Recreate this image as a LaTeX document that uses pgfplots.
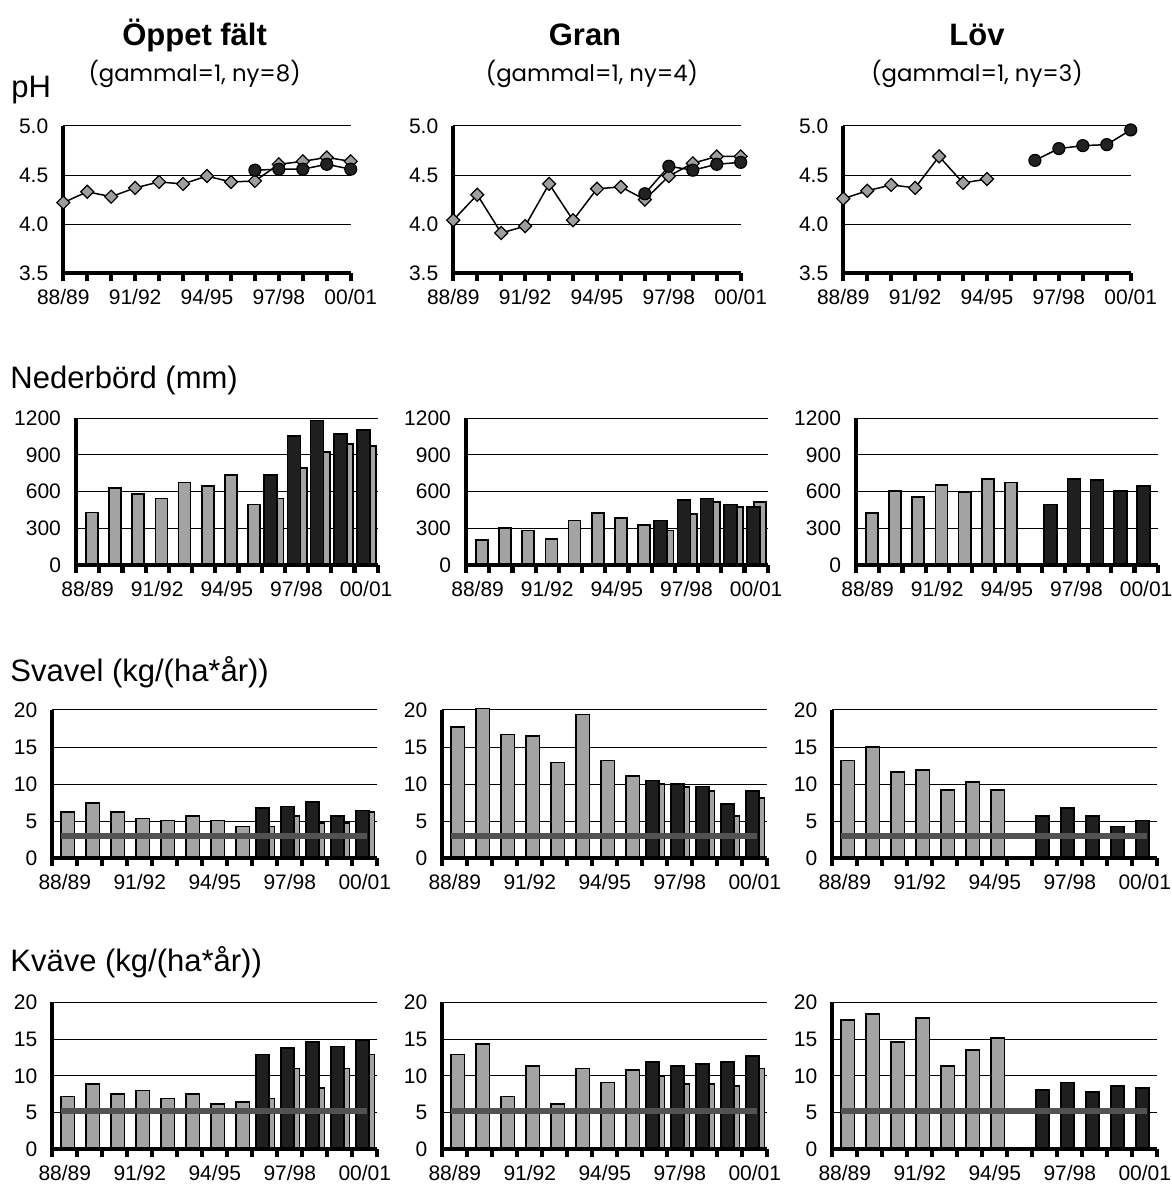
\documentclass[border=0pt]{standalone}
\usepackage{fontspec}
\setmainfont{Liberation Sans}
\newfontfamily\gothic{Poppins}
\usepackage{pgfplots}
\pgfplotsset{compat=1.18}
\definecolor{bargray}{gray}{0.64}
\definecolor{bardark}{gray}{0.12}
\definecolor{refgray}{gray}{0.32}
\definecolor{phgray}{gray}{0.62}
\definecolor{phdark}{gray}{0.13}
\newcommand{\ticks}{\fontsize{10.5}{12}\selectfont}
\pgfplotsset{
  base/.style={scale only axis, anchor=south west,
    axis x line*=bottom, axis y line*=left,
    axis line style={line width=2.1pt, black},
    ymajorgrids, grid style={black, line width=0.5pt},
    major tick length=0pt, minor tick length=4pt,
    tick style={line width=2.1pt, black},
    every minor tick/.append style={line width=2.1pt, black},
    tick align=outside, clip=false,
    ticklabel style={font=\ticks},
    /pgf/number format/assume math mode=true,
    /pgf/number format/1000 sep={},
    xticklabel style={yshift=-4.5pt},
    yticklabel style={xshift=-4pt},
    xtick={0,3,6,9,12},
    xticklabels={88/89,91/92,94/95,97/98,00/01}},
  phrow/.style={base, width=143.7pt, height=73.65pt,
    xmin=0, xmax=12, ymin=3.5, ymax=5,
    ytick={3.5,4,4.5,5}, yticklabels={3.5,4.0,4.5,5.0},
    minor xtick={0,...,12}},
  barrow/.style={base, xmin=-0.5, xmax=12.5,
    minor xtick={-0.5,0.5,...,12.5}},
  nedrow/.style={barrow, width=150.85pt, height=73.35pt,
    ymin=0, ymax=1200, ytick={0,300,600,900,1200},
    yticklabels={0,300,600,900,1200}},
  srow/.style={barrow, width=162.5pt, height=74.15pt,
    ymin=0, ymax=20, ytick={0,5,10,15,20}},
  krow/.style={barrow, width=162.5pt, height=73.5pt,
    ymin=0, ymax=20, ytick={0,5,10,15,20}},
  dia/.style={black, line width=0.75pt, mark=square*, mark size=2.3pt,
    mark options={rotate=45, fill=phgray, draw=black, line width=0.6pt}},
  cir/.style={black, line width=0.75pt, mark=*, mark size=3pt,
    mark options={fill=phdark, draw=black, line width=0.6pt}},
  gbA/.style={ybar, bar width=0.52, bar shift=0.18, fill=bargray, draw=black, line width=0.85pt},
  dbA/.style={ybar, bar width=0.56, bar shift=-0.11, fill=bardark, draw=black, line width=0.85pt},
  gbB/.style={ybar, bar width=0.53, bar shift=0.125, fill=bargray, draw=black, line width=0.85pt},
  dbB/.style={ybar, bar width=0.50, bar shift=-0.09, fill=bardark, draw=black, line width=0.85pt},
  refl/.style={refgray, line width=2.8pt},
  basel/.style={black, line width=2.1pt}
}
\begin{document}
\begin{tikzpicture}
\useasboundingbox (0,0) rectangle (586pt,595pt);
% titles
\node[font=\fontsize{15.5}{18}\selectfont\bfseries] at (97.3pt,577.5pt) {Öppet fält};
\node[font=\fontsize{15.5}{18}\selectfont\bfseries] at (292.5pt,577.5pt) {Gran};
\node[font=\fontsize{15.5}{18}\selectfont\bfseries] at (488.5pt,577.5pt) {Löv};
\node[font=\gothic\fontsize{11.4}{13}\selectfont] at (97.3pt,558pt) {(gammal=1, ny=8)};
\node[font=\gothic\fontsize{11.4}{13}\selectfont] at (296pt,558pt) {(gammal=1, ny=4)};
\node[font=\gothic\fontsize{11.4}{13}\selectfont] at (488.5pt,558pt) {(gammal=1, ny=3)};
\node[font=\fontsize{15.5}{18}\selectfont, anchor=west, inner sep=0pt] at (5.5pt,550pt) {pH};
\node[font=\fontsize{15.5}{18}\selectfont, anchor=west, inner sep=0pt] at (5pt,405pt) {Nederbörd (mm)};
\node[font=\fontsize{15.5}{18}\selectfont, anchor=west, inner sep=0pt] at (5pt,259pt) {Svavel (kg/(ha*år))};
\node[font=\fontsize{15.5}{18}\selectfont, anchor=west, inner sep=0pt] at (5pt,114pt) {Kväve (kg/(ha*år))};

% ---------- pH row ----------
\begin{axis}[phrow, at={(31.65pt,458.35pt)}]
\addplot[dia] coordinates {(0,4.22)(1,4.33)(2,4.28)(3,4.37)(4,4.43)(5,4.41)(6,4.49)(7,4.43)(8,4.44)(9,4.61)(10,4.64)(11,4.68)(12,4.64)};
\addplot[cir] coordinates {(8,4.55)(9,4.56)(10,4.56)(11,4.61)(12,4.56)};
\end{axis}
\begin{axis}[phrow, at={(226.65pt,458.35pt)}]
\addplot[dia] coordinates {(0,4.04)(1,4.30)(2,3.91)(3,3.98)(4,4.41)(5,4.04)(6,4.36)(7,4.38)(8,4.25)(9,4.49)(10,4.62)(11,4.69)(12,4.69)};
\addplot[cir] coordinates {(8,4.31)(9,4.59)(10,4.55)(11,4.61)(12,4.63)};
\end{axis}
\begin{axis}[phrow, at={(421.65pt,458.35pt)}]
\addplot[dia] coordinates {(0,4.26)(1,4.34)(2,4.40)(3,4.37)(4,4.69)(5,4.42)(6,4.46)};
\addplot[cir] coordinates {(8,4.65)(9,4.77)(10,4.80)(11,4.81)(12,4.96)};
\end{axis}

% ---------- Nederbörd row ----------
\begin{axis}[nedrow, at={(38pt,312.5pt)}]
\addplot[gbA] coordinates {(0,430)(1,627)(2,578)(3,543)(4,676)(5,644)(6,739)(7,496)(8,543)(9,791)(10,924)(11,987)(12,974)};
\addplot[dbA] coordinates {(8,739)(9,1053)(10,1181)(11,1069)(12,1102)};
\addplot[basel] coordinates {(-0.5,0)(12.5,0)};
\end{axis}
\begin{axis}[nedrow, at={(233pt,312.5pt)}]
\addplot[gbA] coordinates {(0,205)(1,300)(2,281)(3,215)(4,365)(5,428)(6,382)(7,330)(8,281)(9,415)(10,515)(11,477)(12,513)};
\addplot[dbA] coordinates {(8,365)(9,529)(10,543)(11,496)(12,477)};
\addplot[basel] coordinates {(-0.5,0)(12.5,0)};
\end{axis}
\begin{axis}[nedrow, at={(428pt,312.5pt)}]
\addplot[gbA] coordinates {(0,428)(1,608)(2,559)(3,657)(4,592)(5,706)(6,674)};
\addplot[dbA] coordinates {(8,496)(9,706)(10,693)(11,608)(12,644)};
\addplot[basel] coordinates {(-0.5,0)(12.5,0)};
\end{axis}

% ---------- Svavel row ----------
\begin{axis}[srow, at={(26.15pt,165.85pt)}]
\addplot[gbB] coordinates {(0,6.2)(1,7.5)(2,6.2)(3,5.35)(4,5.1)(5,5.66)(6,5.1)(7,4.27)(8,4.27)(9,5.66)(10,4.8)(11,4.8)(12,6.2)};
\addplot[dbB] coordinates {(8,6.74)(9,7.0)(10,7.55)(11,5.66)(12,6.43)};
\addplot[refl] coordinates {(-0.15,3)(12.1,3)};
\addplot[basel] coordinates {(-0.5,0)(12.5,0)};
\end{axis}
\begin{axis}[srow, at={(221.15pt,165.85pt)}]
\addplot[gbB] coordinates {(0,17.75)(1,20.2)(2,16.7)(3,16.45)(4,12.9)(5,19.4)(6,13.2)(7,11.1)(8,10.0)(9,9.6)(10,9.1)(11,5.7)(12,8.1)};
\addplot[dbB] coordinates {(8,10.5)(9,10.0)(10,9.7)(11,7.3)(12,9.1)};
\addplot[refl] coordinates {(-0.15,3)(12.1,3)};
\addplot[basel] coordinates {(-0.5,0)(12.5,0)};
\end{axis}
\begin{axis}[srow, at={(416.15pt,165.85pt)}]
\addplot[gbB] coordinates {(0,13.2)(1,15.05)(2,11.6)(3,11.9)(4,9.2)(5,10.25)(6,9.2)};
\addplot[dbB] coordinates {(8,5.66)(9,6.74)(10,5.66)(11,4.27)(12,5.1)};
\addplot[refl] coordinates {(-0.15,3)(12.1,3)};
\addplot[basel] coordinates {(-0.5,0)(12.5,0)};
\end{axis}

% ---------- Kväve row ----------
\begin{axis}[krow, at={(26.15pt,20.35pt)}]
\addplot[gbB] coordinates {(0,7.2)(1,8.84)(2,7.48)(3,7.98)(4,6.9)(5,7.48)(6,6.12)(7,6.4)(8,6.9)(9,11.0)(10,8.3)(11,11.0)(12,12.9)};
\addplot[dbB] coordinates {(8,12.9)(9,13.74)(10,14.56)(11,14.0)(12,14.83)};
\addplot[refl] coordinates {(-0.15,5.25)(12.1,5.25)};
\addplot[basel] coordinates {(-0.5,0)(12.5,0)};
\end{axis}
\begin{axis}[krow, at={(221.15pt,20.35pt)}]
\addplot[gbB] coordinates {(0,12.9)(1,14.3)(2,7.2)(3,11.3)(4,6.12)(5,11.0)(6,9.1)(7,10.75)(8,9.93)(9,8.84)(10,8.84)(11,8.57)(12,11.0)};
\addplot[dbB] coordinates {(8,11.84)(9,11.3)(10,11.56)(11,11.84)(12,12.65)};
\addplot[refl] coordinates {(-0.15,5.25)(12.1,5.25)};
\addplot[basel] coordinates {(-0.5,0)(12.5,0)};
\end{axis}
\begin{axis}[krow, at={(416.15pt,20.35pt)}]
\addplot[gbB] coordinates {(0,17.6)(1,18.37)(2,14.56)(3,17.82)(4,11.3)(5,13.47)(6,15.1)};
\addplot[dbB] coordinates {(8,8.03)(9,9.1)(10,7.76)(11,8.57)(12,8.3)};
\addplot[refl] coordinates {(-0.15,5.25)(12.1,5.25)};
\addplot[basel] coordinates {(-0.5,0)(12.5,0)};
\end{axis}
\end{tikzpicture}
\end{document}
